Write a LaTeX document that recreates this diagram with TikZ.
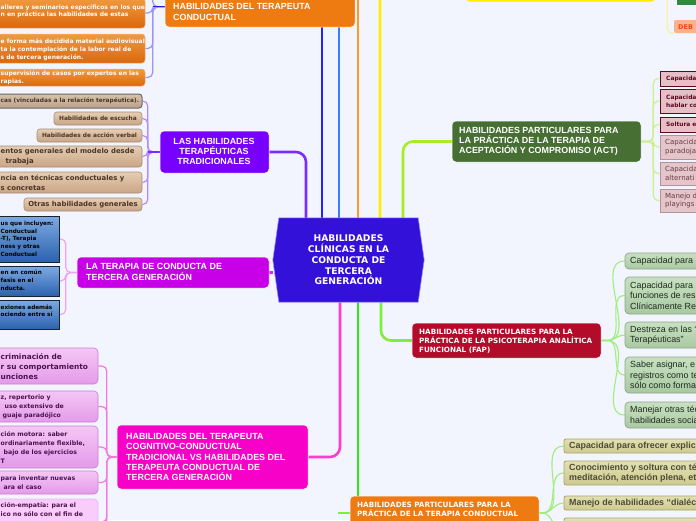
\documentclass[tikz,border=0pt]{standalone}
\usepackage{fontspec}
\setmainfont{Liberation Sans}
\newfontfamily\dvs{DejaVu Sans}
\usetikzlibrary{calc}
\pgfdeclarelayer{bglayer}
\pgfsetlayers{bglayer,main}
\definecolor{bgc}{HTML}{F2F5FE}
\definecolor{ctrc}{HTML}{3311D9}
\definecolor{orgc}{HTML}{EE7A12}
\definecolor{lhtc}{HTML}{7700FF}
\definecolor{ltgc}{HTML}{C800E8}
\definecolor{hcgc}{HTML}{F700C8}
\definecolor{actc}{HTML}{476F34}
\definecolor{fapc}{HTML}{B30B2A}
\definecolor{ocT}{HTML}{F29A3E}
\definecolor{ocB}{HTML}{D9680E}
\definecolor{ocD}{HTML}{F5B57C}
\definecolor{brT}{HTML}{E6CDB3}
\definecolor{brB}{HTML}{C9A585}
\definecolor{brD}{HTML}{A48D78}
\definecolor{brText}{HTML}{4A3526}
\definecolor{bcoT}{HTML}{D6C2AC}
\definecolor{bcoB}{HTML}{BBA189}
\definecolor{bcoD}{HTML}{6B6763}
\definecolor{blT}{HTML}{7DAAE2}
\definecolor{blB}{HTML}{2C62AE}
\definecolor{blD}{HTML}{1A2232}
\definecolor{pkT}{HTML}{F5C6F5}
\definecolor{pkB}{HTML}{E39BE9}
\definecolor{pkD}{HTML}{CE7CD6}
\definecolor{pkText}{HTML}{4C1250}
\definecolor{pkfF}{HTML}{F9CCF9}
\definecolor{pkfD}{HTML}{F2B2F4}
\definecolor{abF}{HTML}{E7C0C7}
\definecolor{abD}{HTML}{5C0A1E}
\definecolor{abText}{HTML}{5A0A20}
\definecolor{arF}{HTML}{E4C6CA}
\definecolor{arD}{HTML}{B3939B}
\definecolor{arText}{HTML}{6A3A48}
\definecolor{fT}{HTML}{C8E1C1}
\definecolor{fB}{HTML}{A9C9A2}
\definecolor{fD}{HTML}{8CA588}
\definecolor{fText}{HTML}{1E2B1E}
\definecolor{kT}{HTML}{E2E0B2}
\definecolor{kB}{HTML}{CDCA90}
\definecolor{kD}{HTML}{A9A56E}
\definecolor{kText}{HTML}{4D4B33}
\definecolor{gboxc}{HTML}{2F8A3E}
\definecolor{debF}{HTML}{F6B48C}
\definecolor{debT}{HTML}{FF4010}
\definecolor{cPurp}{HTML}{7B2CFF}
\definecolor{cBlue}{HTML}{2323FF}
\definecolor{cBlue2}{HTML}{3B7BFF}
\definecolor{cDB}{HTML}{2323D8}
\definecolor{cOrg}{HTML}{FF9A22}
\definecolor{cYel}{HTML}{FFEE00}
\definecolor{cYG}{HTML}{A6EE22}
\definecolor{cMag}{HTML}{D62CF2}
\definecolor{cPink}{HTML}{FF3CCB}
\definecolor{cGrn}{HTML}{2EEA10}
\definecolor{cLG}{HTML}{7CEE3C}
\definecolor{kLav}{HTML}{9C94F6}
\definecolor{kPur}{HTML}{B68CFA}
\definecolor{kMag}{HTML}{F0A2F2}
\definecolor{kPink}{HTML}{F27ADE}
\definecolor{kAct}{HTML}{CDEF8E}
\definecolor{kFan}{HTML}{9DEE7C}
\definecolor{kYel}{HTML}{F8F0A8}
\definecolor{hexD}{HTML}{9E94F0}
\newcommand\bx[6]{\node[#6,minimum width={(#4)-(#2)},minimum height={(#5)-(#3)},inner sep=0pt] (#1) at ({((#2)+(#4))/2},{((#3)+(#5))/2}) {};}
\tikzset{
 tx/.style={inner sep=0pt, anchor=west, align=left},
 conn/.style={line width=2.6pt},
 brk/.style={line width=1.2pt, rounded corners=5pt},
 fan/.style={line width=1.1pt},
 tmain/.style={tx, text=white, font=\bfseries\fontsize{8.9}{10.3}\selectfont},
 tdv/.style={tx, text=white, font=\dvs\bfseries\fontsize{7.2}{9}\selectfont},
 mainbox/.style={rounded corners=4pt, draw=white, line width=0.5pt},
 obox/.style={rounded corners=3pt, top color=ocT, bottom color=ocB, draw=ocD, line width=0.5pt},
 otx/.style={tx, text=white, font=\dvs\bfseries\fontsize{6}{7.8}\selectfont},
 brbox/.style={rounded corners=3pt, top color=brT, bottom color=brB, draw=brD, line width=0.6pt},
 brtx/.style={tx, text=brText, font=\dvs\bfseries\fontsize{5.85}{8}\selectfont},
 brtxL/.style={tx, text=brText, font=\dvs\bfseries\fontsize{6.9}{9.6}\selectfont},
 blbox/.style={top color=blT, bottom color=blB, draw=blD, line width=0.9pt},
 bltx/.style={tx, text=black, font=\dvs\bfseries\fontsize{5.7}{7.9}\selectfont},
 pkbox/.style={rounded corners=4pt, top color=pkT, bottom color=pkB, draw=pkD, line width=0.6pt},
 pktxL/.style={tx, text=pkText, font=\dvs\bfseries\fontsize{7.4}{10.3}\selectfont},
 pktx/.style={tx, text=pkText, font=\dvs\bfseries\fontsize{6.2}{8.9}\selectfont},
 abbox/.style={fill=abF, draw=abD, line width=1pt},
 arbox/.style={fill=arF, draw=arD, line width=0.7pt},
 abtx/.style={tx, text=abText, font=\dvs\bfseries\fontsize{5.9}{8.2}\selectfont},
 artx/.style={tx, text=arText, font=\dvs\fontsize{7}{8.6}\selectfont},
 fbox/.style={rounded corners=4pt, top color=fT, bottom color=fB, draw=fD, line width=0.7pt},
 ftx/.style={tx, text=fText, font=\fontsize{8.9}{10.5}\selectfont},
 kbox/.style={rounded corners=2pt, top color=kT, bottom color=kB, draw=kD, line width=0.8pt},
 ktx/.style={tx, text=kText, font=\bfseries\fontsize{8.9}{10.6}\selectfont},
}
\begin{document}
\begin{tikzpicture}[x=1pt,y=-1pt]
\useasboundingbox (0,0) rectangle (696,520);
% ---------- free ends
\coordinate (up1) at (322,-20);
\coordinate (up2) at (339,-20);
\coordinate (up3) at (358,-20);
% ---------- top right
\bx{ybox}{466}{-30}{655}{1.5}{rounded corners=4pt, fill=cYel, draw=cYel}
\bx{gbox}{676}{-12}{712}{5}{fill=gboxc, draw=white}
\bx{deb}{674}{20}{712}{33}{rounded corners=2pt, fill=debF}
\node[tx, text=debT, font=\dvs\bfseries\fontsize{6.5}{8}\selectfont] (debt) at (678,26.8) {DEB};
% ---------- top orange
\bx{otop}{165}{-10}{355}{27}{mainbox, fill=orgc}
\node[tmain] (otopt) at (173,12) {HABILIDADES DEL TERAPEUTA\\CONDUCTUAL};
\bx{oc1}{-10}{-2}{145}{28}{obox}
\node[otx] (oc1t) at (0.5,11.3) {alleres y seminarios específicos en los que\\n en práctica las habilidades de estas};
\bx{oc2}{-10}{34}{145}{63}{obox}
\node[otx] (oc2t) at (0.5,49.7) {e forma más decidida material audiovisual\\ta la contemplación de la labor real de\\s de tercera generación.};
\bx{oc3}{-10}{69}{145}{86}{obox}
\node[otx] (oc3t) at (0.5,78) {supervisión de casos por expertos en las\\rapias.};
% ---------- traditional skills
\bx{lht}{160}{131}{269}{173}{mainbox, fill=lhtc}
\node[tmain, align=center, anchor=center] (lhtt) at (214,151.5) {LAS HABILIDADES\\TERAPÉUTICAS\\TRADICIONALES};
\bx{bc1}{-10}{94}{142}{108}{rounded corners=3pt, top color=bcoT, bottom color=bcoB, draw=bcoD, line width=1pt}
\node[brtx] (bc1t) at (0.5,101) {cas (vinculadas a la relación terapéutica).};
\bx{bc2}{54}{112}{142}{125}{brbox}
\node[brtx, anchor=center] (bc2t) at (98,118.5) {Habilidades de escucha};
\bx{bc3}{37}{129}{142}{142}{brbox}
\node[brtx, anchor=center] (bc3t) at (89.5,135.5) {Habilidades de acción verbal};
\bx{bc4}{-10}{146}{142}{167}{brbox}
\node[brtxL] (bc4t) at (0.5,156.5) {entos generales del modelo desde\\\hspace*{5pt}trabaja};
\bx{bc5}{-10}{172}{142}{193}{brbox}
\node[brtxL] (bc5t) at (0.5,182.5) {ncia en técnicas conductuales y\\s concretas};
\bx{bc6}{24}{198}{142}{211}{brbox}
\node[brtxL, anchor=center] (bc6t) at (83,204.5) {Otras habilidades generales};
% ---------- third generation
\bx{ltg}{77}{257}{269}{288}{mainbox, fill=ltgc}
\node[tmain] (ltgt) at (86,272) {LA TERAPIA DE CONDUCTA DE\\TERCERA GENERACIÓN};
\bx{bl1}{-10}{216}{59}{262}{blbox}
\node[bltx] (bl1t) at (0.5,238.8) {us que incluyen:\\Conductual\\-T), Terapia\\ness y otras\\Conductual};
\bx{bl2}{-10}{266}{59}{296}{blbox}
\node[bltx] (bl2t) at (0.5,280.5) {en en común\\fasis en el\\nducta.};
\bx{bl3}{-10}{300}{59}{329}{blbox}
\node[bltx] (bl3t) at (0.5,310.8) {exiones además\\ociendo entre sí};
% ---------- cognitive vs third generation
\bx{hcg}{117}{425}{308}{489}{mainbox, fill=hcgc}
\node[tmain] (hcgt) at (126,457) {HABILIDADES DEL TERAPEUTA\\COGNITIVO-CONDUCTUAL\\TRADICIONAL VS HABILIDADES DEL\\TERAPEUTA CONDUCTUAL DE\\TERCERA GENERACIÓN};
\bx{pk1}{-10}{348}{98}{384}{pkbox}
\node[pktxL] (pk1t) at (0.5,366.5) {criminación de\\r su comportamiento\\unciones};
\bx{pk2}{-10}{391}{98}{422}{pkbox}
\node[pktx] (pk2t) at (0.5,406.5) {z, repertorio y\\\hspace*{4pt}uso extensivo de\\\hspace*{2pt}guaje paradójico};
\bx{pk3}{-10}{426}{98}{468}{pkbox}
\node[pktx] (pk3t) at (0.5,447.5) {ción motora: saber\\ordinariamente flexible,\\\hspace*{3pt}bajo de los ejercicios\\T};
\bx{pk4}{-10}{471}{98}{494}{pkbox}
\node[pktx] (pk4t) at (0.5,482.5) {para inventar nuevas\\\hspace*{3pt}ara el caso};
\bx{pk5}{-10}{499}{98}{545}{rounded corners=4pt, fill=pkfF, draw=pkfD, line width=0.6pt}
\node[pktx] (pk5t) at (0.5,509.5) {ción-empatía: para el\\ico no sólo con el fin de};
% ---------- ACT
\bx{act}{452}{121}{641}{162}{mainbox, fill=actc}
\node[tmain] (actt) at (459,141.3) {HABILIDADES PARTICULARES PARA\\LA PRÁCTICA DE LA TERAPIA DE\\ACEPTACIÓN Y COMPROMISO (ACT)};
\bx{a1}{660}{71}{712}{86}{abbox}
\node[abtx] (a1t) at (666,78.5) {Capacida};
\bx{a2}{660}{89}{712}{113}{abbox}
\node[abtx] (a2t) at (666,101) {Capacida\\hablar co};
\bx{a3}{660}{117}{712}{132}{abbox}
\node[abtx] (a3t) at (666,124.5) {Soltura e};
\bx{a4}{660}{135}{712}{159}{arbox}
\node[artx] (a4t) at (665,147) {Capacida\\paradoja};
\bx{a5}{660}{162}{712}{185}{arbox}
\node[artx] (a5t) at (665,173.5) {Capacida\\alternati};
\bx{a6}{660}{189}{712}{212}{arbox}
\node[artx] (a6t) at (665,200.5) {Manejo d\\playings};
% ---------- FAP
\bx{fap}{412}{323}{601}{358}{mainbox, fill=fapc}
\node[tdv] (fapt) at (419,341) {HABILIDADES PARTICULARES PARA LA\\PRÁCTICA DE LA PSICOTERAPIA ANALÍTICA\\FUNCIONAL (FAP)};
\bx{f1}{625}{253}{712}{269}{fbox}
\node[ftx] (f1t) at (630,261) {Capacidad para};
\bx{f2}{625}{277}{712}{314}{fbox}
\node[ftx] (f2t) at (630,295.5) {Capacidad para\\funciones de res\\Clínicamente Re};
\bx{f3}{625}{322}{712}{348}{fbox}
\node[ftx] (f3t) at (630,335) {Destreza en las “\\Terapéuticas”};
\bx{f4}{625}{357}{712}{393}{fbox}
\node[ftx] (f4t) at (630,375) {Saber asignar, e\\registros como te\\sólo como forma};
\bx{f5}{625}{402}{712}{428}{fbox}
\node[ftx] (f5t) at (630,415) {Manejar otras téc\\habilidades socia};
% ---------- bottom orange
\bx{bo}{350}{496}{539}{540}{mainbox, fill=orgc}
\node[tdv] (bot) at (357,509.5) {HABILIDADES PARTICULARES PARA LA\\PRÁCTICA DE LA TERAPIA CONDUCTUAL};
\bx{k1}{564}{439}{712}{453}{kbox}
\node[ktx] (k1t) at (569,446) {Capacidad para ofrecer explic};
\bx{k2}{564}{461}{712}{485}{kbox}
\node[ktx] (k2t) at (569,473) {Conocimiento y soltura con té\\meditación, atención plena, et};
\bx{k3}{564}{496}{712}{510}{kbox}
\node[ktx] (k3t) at (569,503) {Manejo de habilidades “dialéc};
\bx{k4}{564}{518}{712}{545}{kbox}
% ---------- centre
\node[minimum width=151, minimum height=84, inner sep=0pt, align=center, text=white, font=\dvs\bfseries\fontsize{9.2}{10.7}\selectfont] (ctr) at (348.5,260) {HABILIDADES\\CLÍNICAS EN LA\\CONDUCTA DE\\TERCERA\\GENERACIÓN};
% ---------- background layer: connectors
\begin{pgfonlayer}{bglayer}
\fill[bgc] (0,0) rectangle (696,520);
% brackets
\coordinate (obr) at ($(otop.south west)+(0,-20.5)$);
\foreach \ch in {oc1,oc2,oc3} \draw[brk,kLav] (obr) -- ++(-12,0) |- (\ch.east);
\draw[brk,kLav] (obr) -- ++(-12,0) -- ++(0,-20);
\draw[line width=1.3pt,cDB] (obr) -- ++(-12,0);
\foreach \ch in {bc1,bc2,bc3,bc4,bc5,bc6} \draw[brk,kPur] (lht.west) -- ++(-12,0) |- (\ch.east);
\draw[line width=1.3pt,cPurp] (lht.west) -- ++(-12,0);
\foreach \ch in {bl1,bl2,bl3} \draw[brk,kMag] (ltg.west) -- ++(-11,0) |- (\ch.east);
\foreach \ch in {pk1,pk2,pk3,pk4,pk5} \draw[brk,kPink] (hcg.west) -- ++(-10,0) |- (\ch.east);
\draw[brk,kPink] (hcg.west) -- ++(-10,0) -- ++(0,80);
\foreach \ch in {a1,a2,a3,a4,a5,a6} \draw[brk,kAct] (act.east) -- ++(12,0) |- (\ch.west);
\foreach \ch in {gbox} \draw[brk,kYel] (ybox.east) -- ++(12,0) |- (\ch.west);
\draw[brk,kYel] (ybox.east) -- ++(12,0) |- (deb.south west);
\foreach \ch in {f1,f2,f3,f4,f5} \draw[fan,kFan] (fap.east) -- ++(6,0) to[out=0,in=180] (\ch.west);
\foreach \ch in {k1,k2,k3,k4} \draw[fan,kFan] ($(bo.east)+(0,-5)$) -- ++(3,0) to[out=0,in=180] (\ch.west);
\draw[line width=1.3pt,cLG] ($(bo.west)+(-12,-5)$) -- ($(bo.west)+(0,-5)$);
% main connectors
\draw[conn,cPurp,rounded corners=10pt] (306,0 |- ctr.north) |- (lht.east);
\draw[conn,cBlue] (322,0 |- ctr.north) -- (up1);
\draw[conn,cBlue2] (339,0 |- ctr.north) -- (up2);
\draw[conn,cOrg] (358,0 |- ctr.north) -- (up3);
\draw[conn,cYel,rounded corners=10pt] (380,0 |- ctr.north) |- (ybox.west);
\draw[conn,cYG,rounded corners=10pt] (403,0 |- ctr.north) |- (act.west);
\draw[conn,cMag] (ltg.east) -- (ctr.west |- ltg.east);
\draw[conn,cPink,rounded corners=10pt] (340,0 |- ctr.south) |- (hcg.east);
\draw[conn,cGrn] (358,0 |- ctr.south) -- (358,0 |- bo.center);
\draw[conn,cLG,rounded corners=10pt] (381,0 |- ctr.south) |- (fap.west);
% centre hexagon
\filldraw[fill=ctrc, draw=hexD, line width=0.6pt] (ctr.west) -- ($(ctr.north west)+(6,0)$) -- ($(ctr.north east)+(-6,0)$) -- (ctr.east) -- ($(ctr.south east)+(-6,0)$) -- ($(ctr.south west)+(6,0)$) -- cycle;
\end{pgfonlayer}
\end{tikzpicture}
\end{document}
